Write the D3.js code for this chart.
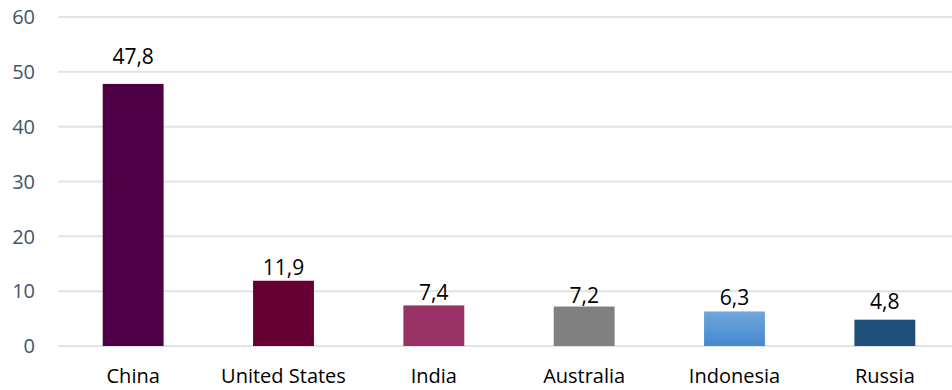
<!DOCTYPE html>
<html>
<head>
<meta charset="utf-8">
<script src="https://cdn.jsdelivr.net/npm/d3@7"></script>
<style>
  body { margin: 0; background: #fff; }
  svg { display: block; font-family: "Open Sans", sans-serif; }
</style>
</head>
<body>
<div id="chart"></div>
<script>
// data
var countries = ["China", "United States", "India", "Australia", "Indonesia", "Russia"];
var values = [47.8, 11.9, 7.4, 7.2, 6.3, 4.8];
var yTicks = [0, 10, 20, 30, 40, 50, 60];
var barColors = ["#4e0046", "#660033", "#993366", "#808080", "url(#blueGrad)", "#1f4e79"];

// label nudges (px above the bar top), the labels sit at hand-picked heights
var labelGap = { "China": 20, "United States": 6, "India": 5, "Australia": 4, "Indonesia": 6, "Russia": 11 };

var W = 952, H = 390;
var margin = { top: 17, right: -8, bottom: 44, left: 58 };

var svg = d3.select("#chart")
  .append("svg")
  .attr("width", W)
  .attr("height", H);

var defs = svg.append("defs");
var grad = defs.append("linearGradient")
  .attr("id", "blueGrad")
  .attr("x1", 0).attr("y1", 0).attr("x2", 0).attr("y2", 1);
grad.append("stop").attr("offset", "0%").attr("stop-color", "#70a7dc");
grad.append("stop").attr("offset", "100%").attr("stop-color", "#4588cf");

var x = d3.scaleBand()
  .domain(countries)
  .range([margin.left, W - margin.right])
  .paddingInner(0.595)
  .paddingOuter(0.2975);

var y = d3.scaleLinear()
  .domain([0, 60])
  .range([H - margin.bottom, margin.top]);

// gridlines
svg.append("g")
  .selectAll("line")
  .data(yTicks)
  .enter().append("line")
  .attr("x1", margin.left)
  .attr("x2", W)
  .attr("y1", function (d) { return y(d); })
  .attr("y2", function (d) { return y(d); })
  .attr("stroke", "#e0e4e9")
  .attr("stroke-width", 2);

// y labels
svg.append("g")
  .selectAll("text")
  .data(yTicks)
  .enter().append("text")
  .attr("x", 35)
  .attr("y", function (d) { return y(d); })
  .attr("dy", "0.36em")
  .attr("text-anchor", "end")
  .style("font-size", "20px")
  .style("fill", "#44546a")
  .text(function (d) { return d; });

// bars
svg.append("g")
  .selectAll("rect")
  .data(countries)
  .enter().append("rect")
  .attr("x", function (d) { return x(d); })
  .attr("y", function (d, i) { return y(values[i]); })
  .attr("width", x.bandwidth())
  .attr("height", function (d, i) { return y(0) - y(values[i]); })
  .attr("fill", function (d, i) { return barColors[i]; });

// value labels
svg.append("g")
  .selectAll("text")
  .data(countries)
  .enter().append("text")
  .attr("x", function (d) { return x(d) + x.bandwidth() / 2; })
  .attr("y", function (d, i) { return y(values[i]) - labelGap[d]; })
  .attr("text-anchor", "middle")
  .style("font-size", "21px")
  .style("fill", "#000")
  .text(function (d, i) { return d3.format(".1f")(values[i]).replace(".", ","); });

// category labels
svg.append("g")
  .selectAll("text")
  .data(countries)
  .enter().append("text")
  .attr("x", function (d) { return x(d) + x.bandwidth() / 2; })
  .attr("y", y(0) + 37)
  .attr("text-anchor", "middle")
  .style("font-size", "20px")
  .style("fill", "#000")
  .text(function (d) { return d; });
</script>
</body>
</html>
